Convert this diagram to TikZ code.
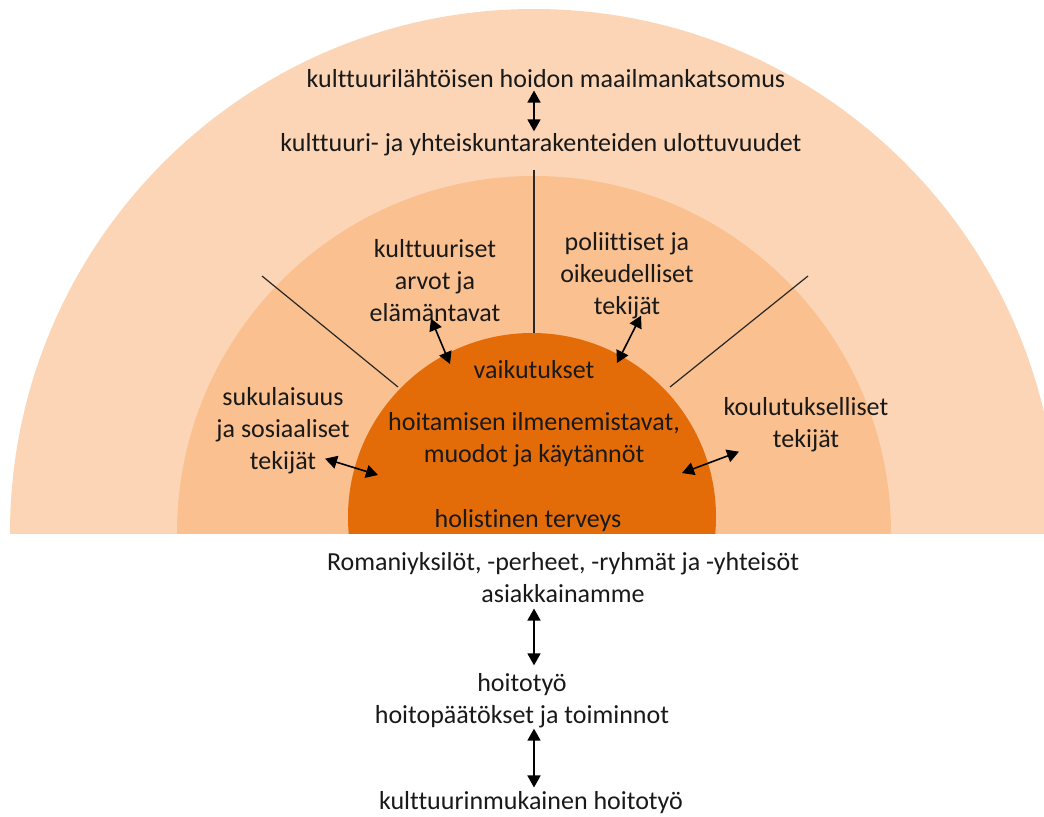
\documentclass[tikz,border=0pt]{standalone}
\usepackage{fontspec}
\setmainfont{Carlito}[Ligatures=NoCommon]
\usepackage{tikz}
\usetikzlibrary{arrows.meta,positioning}
\definecolor{ring1}{RGB}{251,213,181}
\definecolor{ring2}{RGB}{250,192,143}
\definecolor{core}{RGB}{227,108,9}
\definecolor{ink}{RGB}{25,25,25}
\definecolor{spoke}{RGB}{40,40,40}

\begin{document}
\begin{tikzpicture}[x=0.5pt,y=-0.5pt,
    every node/.style={font=\fontsize{13}{16}\selectfont, text=ink, align=center, inner sep=0pt},
    dblarr/.style={{Triangle[length=6pt,width=6.5pt]}-{Triangle[length=6pt,width=6.5pt]}, line width=0.8pt, black}]

    \useasboundingbox (0,0) rectangle (1044,816);

    % rings, cut at the base line
    \begin{scope}
        \clip (0,0) rectangle (1044,533);
        \fill[ring1] (534,533) circle (524);
        \fill[ring2] (534,533) circle (357);
        \fill[core] (532,517) circle (184);
    \end{scope}

    \draw[spoke, line width=0.6pt] (534,170) -- (534,333);
    \draw[spoke, line width=0.6pt] (262,276) -- (398,387);
    \draw[spoke, line width=0.6pt] (808,276) -- (670,387);

    \node (wv) at (546,79) {kulttuurilähtöisen hoidon maailmankatsomus};
    \node (dims) at (541,145) {kulttuuri- ja yhteiskuntarakenteiden ulottuvuudet};
    \node (values) at (435,281) {kulttuuriset\\arvot ja\\elämäntavat};
    \node (politics) at (627,276) {poliittiset ja\\oikeudelliset\\tekijät};
    \node (vaik) at (534,370) {vaikutukset};
    \node (hoit) at (534,440) {hoitamisen ilmenemistavat,\\muodot ja käytännöt};
    \node (holist) at (528,521) {holistinen terveys};
    \node (kin) at (283,431) {sukulaisuus\\ja sosiaaliset\\tekijät};
    \node (edu) at (806,425) {koulutukselliset\\tekijät};
    \node (roma) at (563,578) {Romaniyksilöt, -perheet, -ryhmät ja -yhteisöt\\asiakkainamme};
    \node (hoitotyo) at (522,701) {hoitotyö\\hoitopäätökset ja toiminnot};
    \node (final) at (531,803) {kulttuurinmukainen hoitotyö};

    \coordinate (va) at (450,364);
    \coordinate (pa) at (617,363);
    \coordinate (ka) at (378,475);
    \coordinate (ea) at (682,473);

    \draw[dblarr, shorten <=1pt, shorten >=1pt] (wv.south -| vaik) -- (dims.north -| vaik);
    \draw[dblarr] ([xshift=-2pt,yshift=2pt]values.south) -- (va);
    \draw[dblarr] ([xshift=7pt,yshift=2pt]politics.south) -- (pa);
    \draw[dblarr] ([shift={(42,-16)}]kin.south) -- (ka);
    \draw[dblarr] ([shift={(-67,-1)}]edu.south) -- (ea);
    \draw[dblarr] ([yshift=-2.5pt]roma.south -| vaik) -- ([yshift=4pt]hoitotyo.north -| vaik);
    \draw[dblarr] (hoitotyo.south -| vaik) -- ([yshift=2pt]final.north -| vaik);
\end{tikzpicture}
\end{document}
